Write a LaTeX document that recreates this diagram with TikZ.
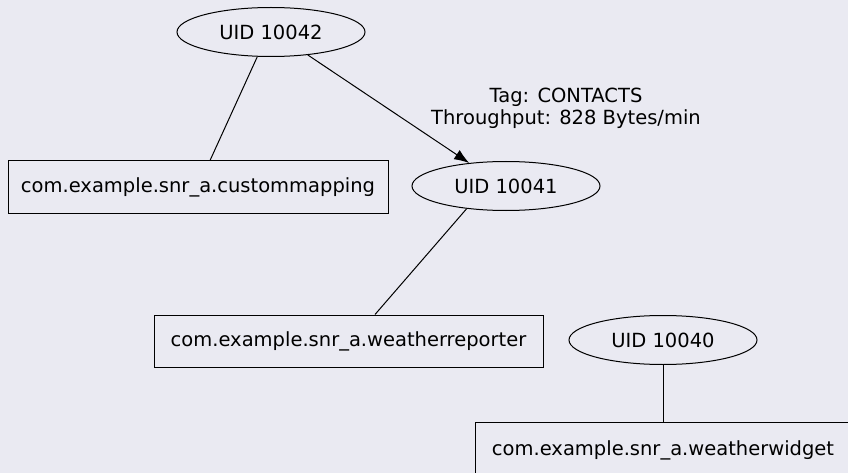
\documentclass[tikz,border=0pt]{standalone}
\usepackage{fontspec}
\setmainfont{DejaVu Sans}
\usetikzlibrary{shapes.geometric,arrows.meta,calc}
\definecolor{bgcol}{HTML}{EAEAF2}
\tikzset{
  uid/.style={draw, ellipse, line width=1pt, inner sep=0pt,
    minimum width=188pt, minimum height=49pt, font=\fontsize{19.5}{21}\selectfont},
  pkg/.style={draw, rectangle, line width=1pt, inner sep=0pt,
    minimum height=52pt, font=\fontsize{19.5}{21}\selectfont},
  link/.style={line width=1pt},
  flow/.style={line width=1pt, -{Latex[length=15pt,width=11pt]}},
  elabel/.style={align=center, inner sep=0pt, font=\fontsize{19.5}{22}\selectfont}
}
\begin{document}
\begin{tikzpicture}[x=1pt,y=-1pt]
  \fill[bgcol] (0,0) rectangle (848,473);
  \useasboundingbox (0,0) rectangle (848,473);
  \clip (0,0) rectangle (848,473);

  % UID nodes
  \node[uid] (u42) at (271,32)  {UID 10042};
  \node[uid] (u41) at (506,186) {UID 10041};
  \node[uid] (u40) at (663,340) {UID 10040};

  % package nodes
  \node[pkg, minimum width=380pt] (cm) at (198,187) {com.example.snr\_a.custommapping};
  \node[pkg, minimum width=389pt] (wr) at (348.5,341) {com.example.snr\_a.weatherreporter};
  \node[pkg, minimum width=376pt, minimum height=56pt] (ww) at (663,450) {\raisebox{2pt}{com.example.snr\_a.weatherwidget}};

  % connectors
  \draw[link] (u42.241) -- ($(cm.north)+(12,0)$);
  \draw[flow] (u42.328) -- (u41.148);
  \draw[link] (u41.210) -- ($(wr.north)+(26.5,0)$);
  \draw[link] (u40.south) -- (ww.north);

  % edge label
  \node[elabel] (lbl) at (566,108) {Tag: CONTACTS\\Throughput: 828 Bytes/min};
\end{tikzpicture}
\end{document}
